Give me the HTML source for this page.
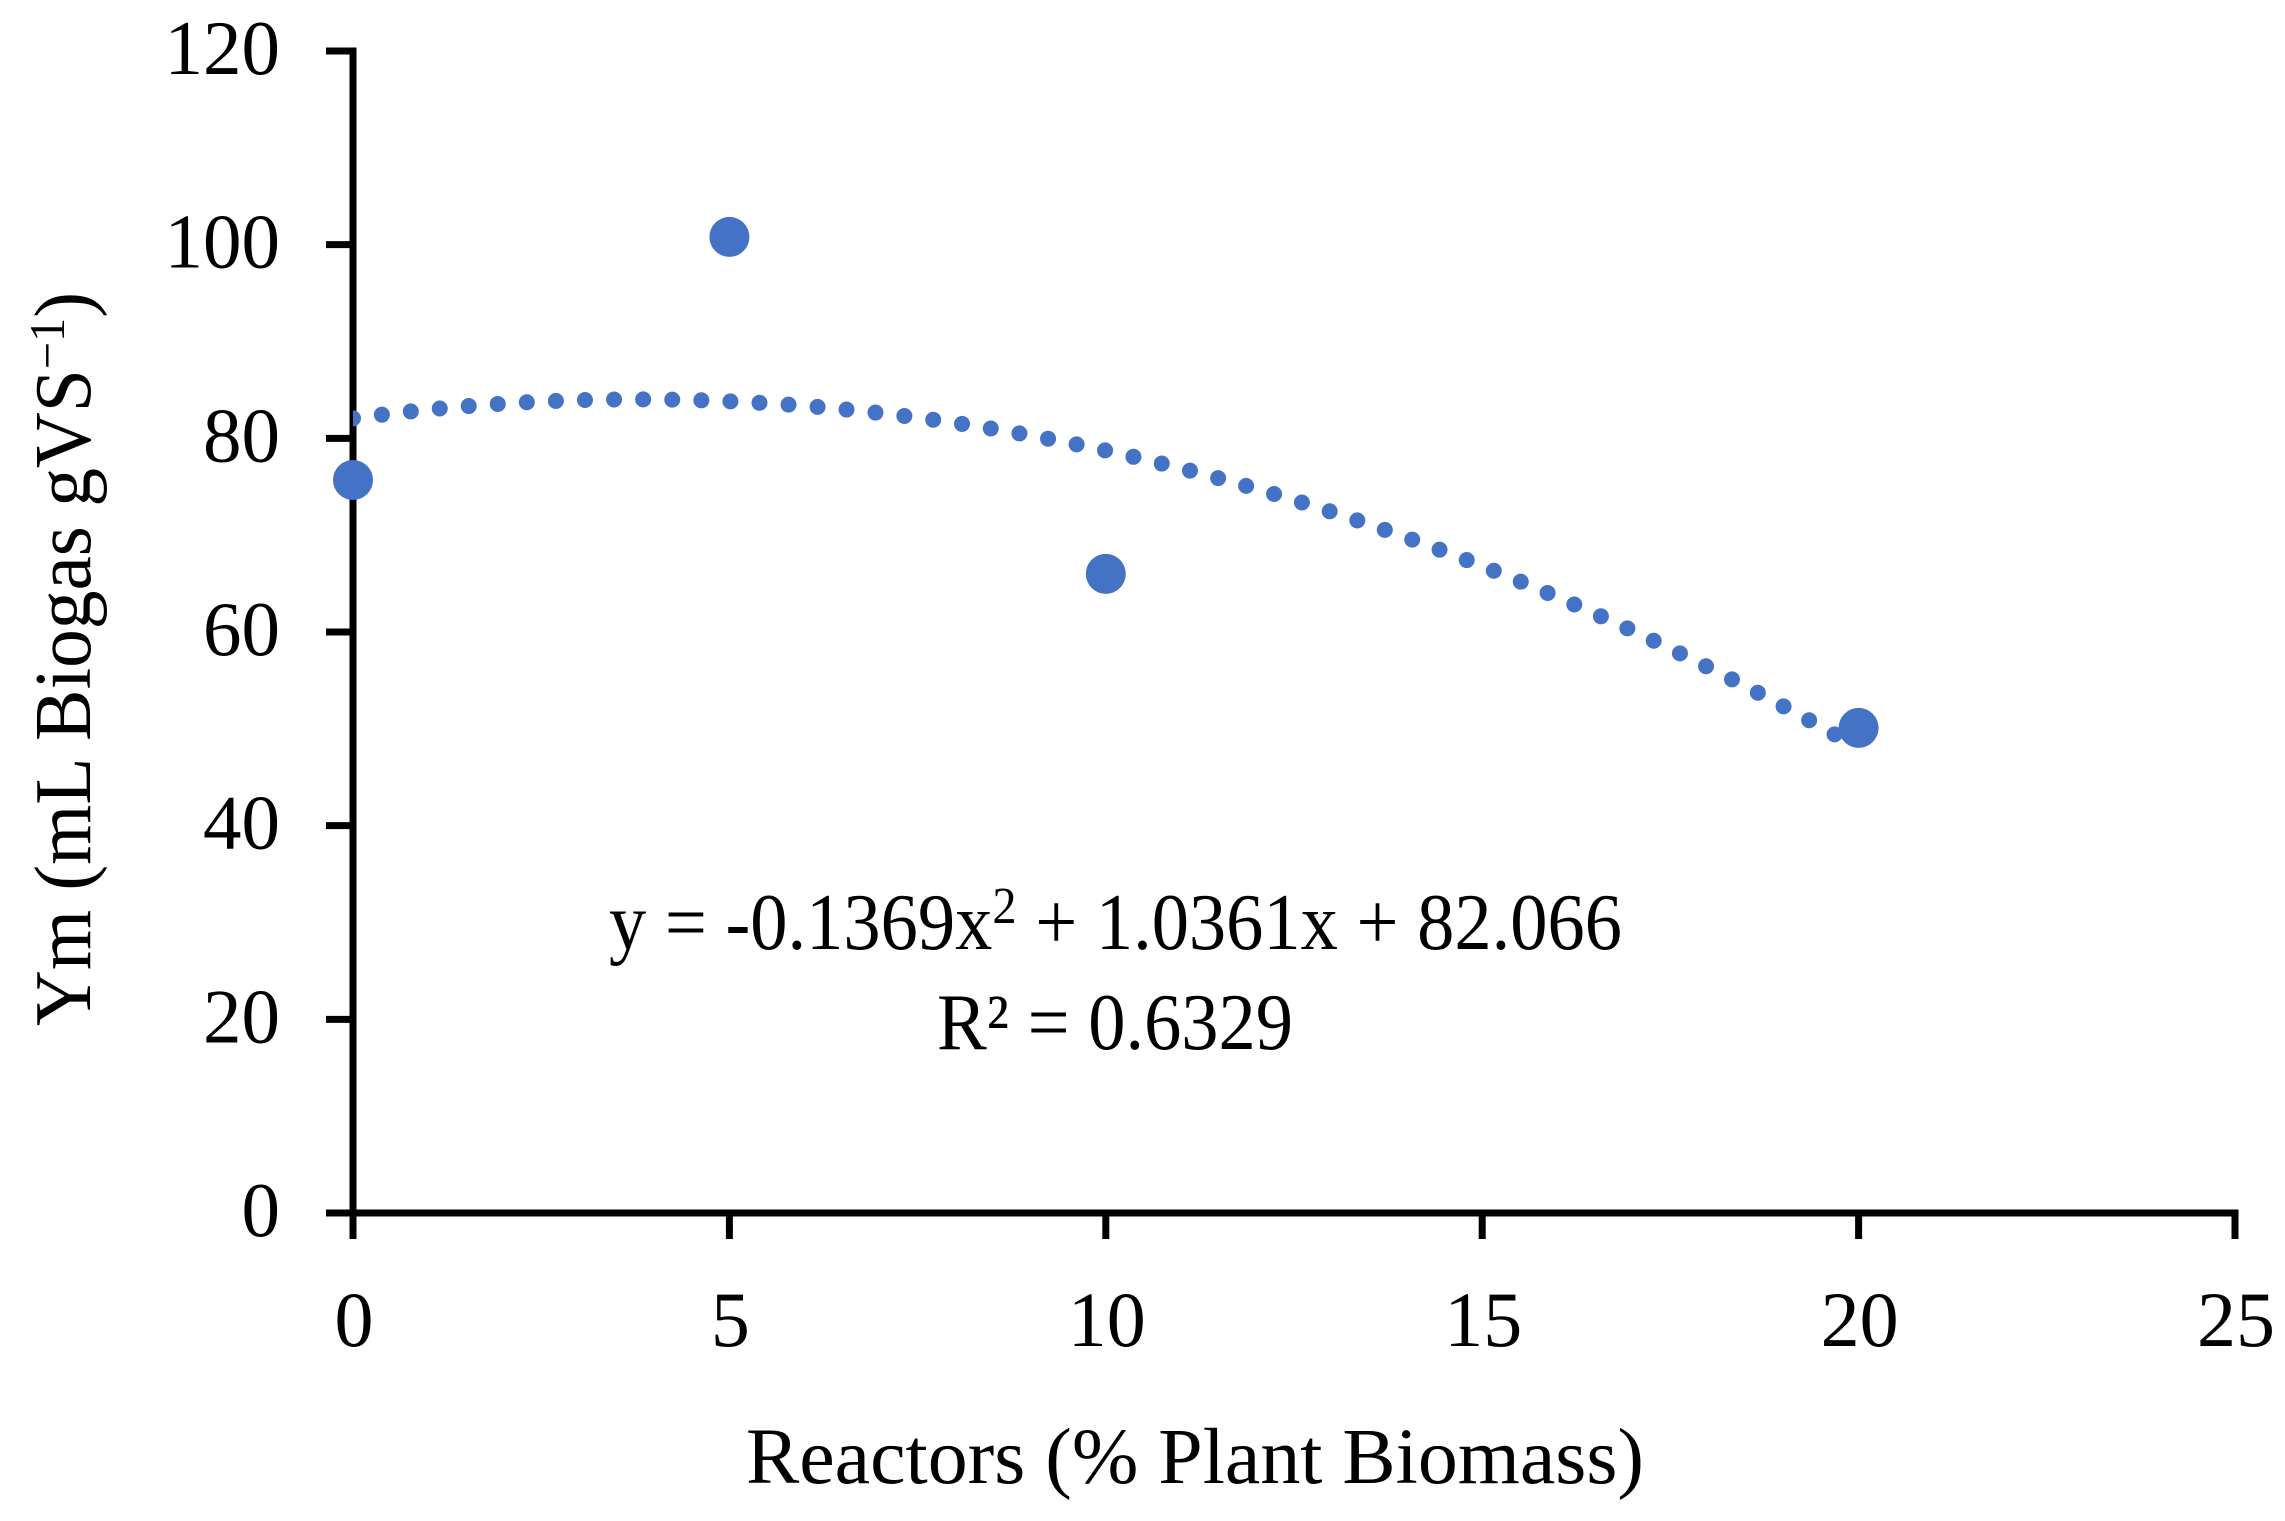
<!DOCTYPE html>
<html lang="en">
<head>
<meta charset="utf-8">
<title>Ym vs Reactors</title>
<style>
html,body{margin:0;padding:0;background:#fff;}
svg{display:block;}
text{font-family:"Liberation Serif",serif;fill:#000;}
</style>
</head>
<body>
<svg id="chart" xmlns="http://www.w3.org/2000/svg" width="2285" height="1521" viewBox="0 0 2285 1521">
  <defs>
    <clipPath id="plot-clip"><rect x="353" y="0" width="1932" height="1521"/></clipPath>
  </defs>
  <rect x="0" y="0" width="2285" height="1521" fill="#ffffff"/>
  <g id="axes"></g>
  <g id="trend" clip-path="url(#plot-clip)"></g>
  <g id="points"></g>
  <text x="746" y="1483" font-size="79" textLength="898" lengthAdjust="spacingAndGlyphs">Reactors (% Plant Biomass)</text>
  <text transform="translate(90,1026) rotate(-90)" font-size="80" textLength="734" lengthAdjust="spacingAndGlyphs">Ym (mL Biogas gVS<tspan font-size="50" dy="-26">−1</tspan><tspan dy="26">)</tspan></text>
  <text x="609" y="949" font-size="80" textLength="1013" lengthAdjust="spacingAndGlyphs">y = -0.1369x<tspan font-size="52" dy="-26">2</tspan><tspan dy="26"> + 1.0361x + 82.066</tspan></text>
  <text x="937" y="1049" font-size="80" textLength="356" lengthAdjust="spacingAndGlyphs">R² = 0.6329</text>
</svg>
<script>
const xCategories = [0, 5, 10, 20];
const yValues = [75.7, 100.8, 66, 50.1];
const xTickLabels = [0, 5, 10, 15, 20, 25];
const yTickLabels = [0, 20, 40, 60, 80, 100, 120];
const trendCoefficients = [-0.1369, 1.0361, 82.066];
const trendRange = [0, 19.75];

const NS = 'http://www.w3.org/2000/svg';
const plot = { left: 353, right: 2235, top: 51, bottom: 1213 };
const xMax = xTickLabels[xTickLabels.length - 1];
const yMax = yTickLabels[yTickLabels.length - 1];
const xScale = v => plot.left + (v / xMax) * (plot.right - plot.left);
const yScale = v => plot.bottom - (v / yMax) * (plot.bottom - plot.top);

function make(tag, attrs, parent) {
  const el = document.createElementNS(NS, tag);
  for (const k in attrs) el.setAttribute(k, attrs[k]);
  parent.appendChild(el);
  return el;
}

const axes = document.getElementById('axes');
const axisStyle = { stroke: '#000', 'stroke-width': 7, fill: 'none' };

const yAxis = make('line', Object.assign({ x1: plot.left, x2: plot.left, y1: plot.top - 3.5, y2: plot.bottom + 26 }, axisStyle), axes);



const xAxis = make('line', Object.assign({ x1: plot.left - 27, x2: plot.right + 3.5, y1: plot.bottom, y2: plot.bottom }, axisStyle), axes);



yTickLabels.forEach(v => {
  const y = yScale(v);
  const tick = make('line', Object.assign({ x1: plot.left - 27, x2: plot.left, y1: y, y2: y }, axisStyle), axes);
  
  
  const label = make('text', { x: 280, y: y + 23, 'text-anchor': 'end', 'font-size': 77 }, axes);
  
  
  label.textContent = v;
});

xTickLabels.forEach(v => {
  const x = xScale(v);
  const tick = make('line', Object.assign({ x1: x, x2: x, y1: plot.bottom, y2: plot.bottom + 26 }, axisStyle), axes);
  
  
  const label = make('text', { x: x + 1, y: 1346, 'text-anchor': 'middle', 'font-size': 78 }, axes);
  
  
  label.textContent = v;
});

const trendFn = x => trendCoefficients[0] * x * x + trendCoefficients[1] * x + trendCoefficients[2];
let d = '';
const steps = 200;
for (let i = 0; i <= steps; i++) {
  const xv = trendRange[0] + (trendRange[1] - trendRange[0]) * i / steps;
  d += (i ? 'L' : 'M') + xScale(xv).toFixed(2) + ' ' + yScale(trendFn(xv)).toFixed(2);
}
const trendPath = make('path', {
  d: d, fill: 'none', stroke: '#4472C4', 'stroke-width': 16,
  'stroke-linecap': 'round', 'stroke-dasharray': '0 29.1'
}, document.getElementById('trend'));



const pointsG = document.getElementById('points');
xCategories.forEach((xv, i) => {
  const c = make('circle', { cx: xScale(xv), cy: yScale(yValues[i]), r: 20, fill: '#4472C4' }, pointsG);
  
  
});
</script>
</body>
</html>
